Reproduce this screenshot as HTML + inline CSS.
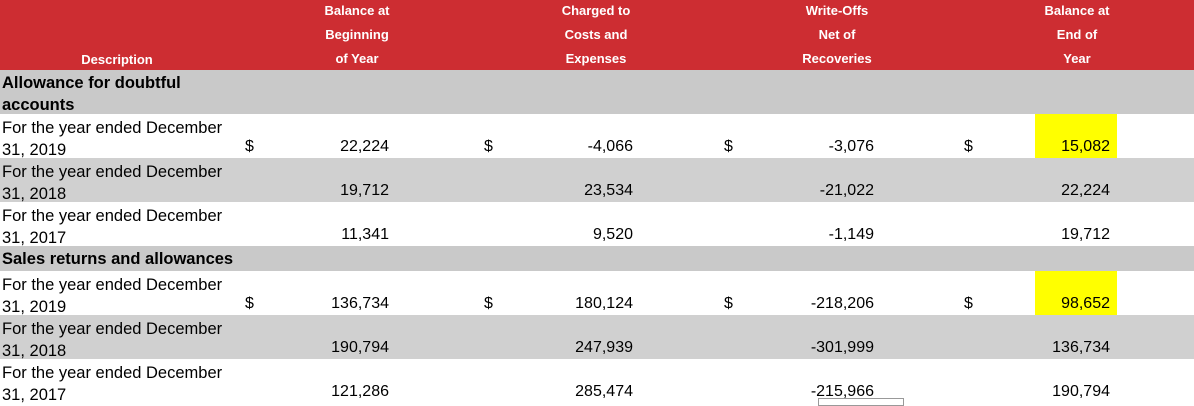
<!DOCTYPE html>
<html><head><meta charset="utf-8"><style>
body{margin:0;width:1194px;height:401px;overflow:hidden;background:#fff;font-family:"Liberation Sans",Arial,sans-serif;position:relative}
div{position:absolute}
.h{color:#fff;font-weight:bold;font-size:13px;text-align:center;width:200px}
.band{left:0;width:1194px}
.d{left:2px;font-size:16.5px;line-height:22px;color:#000;white-space:nowrap}
.b{font-weight:bold}
.n{font-size:16px;text-align:right;width:150px}
.s{font-size:16px}
</style></head><body>
<div class="band" style="top:0;height:70px;background:#cd2d32"></div>
<div class="h" style="left:17px;top:52px">Description</div>
<div class="h" style="left:257px;top:-1px;line-height:24px">Balance at<br>Beginning<br>of Year</div>
<div class="h" style="left:496px;top:-1px;line-height:24px">Charged to<br>Costs and<br>Expenses</div>
<div class="h" style="left:737px;top:-1px;line-height:24px">Write-Offs<br>Net of<br>Recoveries</div>
<div class="h" style="left:977px;top:-1px;line-height:24px">Balance at<br>End of<br>Year</div>

<div class="band" style="top:70px;height:44px;background:#c9c9c9"></div>
<div class="band" style="top:158px;height:44px;background:#d0d0d0"></div>
<div class="band" style="top:246px;height:25px;background:#c9c9c9"></div>
<div class="band" style="top:315px;height:44px;background:#d0d0d0"></div>
<div style="left:1035px;top:114px;width:82px;height:44px;background:#ffff00"></div>
<div style="left:1035px;top:271px;width:82px;height:44px;background:#ffff00"></div>

<div class="d b" style="top:72px">Allowance for doubtful<br>accounts</div>
<div class="d b" style="top:248px">Sales returns and allowances</div>

<div style="left:818px;top:398px;width:84px;height:6px;border:1px solid #999"></div>
<script>
const labels=["2019","2018","2017","2019","2018","2017"];
const begin=["22,224","19,712","11,341","136,734","190,794","121,286"];
const charged=["-4,066","23,534","9,520","180,124","247,939","285,474"];
const writeoffs=["-3,076","-21,022","-1,149","-218,206","-301,999","-215,966"];
const ending=["15,082","22,224","19,712","98,652","136,734","190,794"];
const tops=[114,158,202,271,315,359];
const root=document.body;
function add(cls,txt,style,name){const e=document.createElement('div');e.className=cls;e.innerHTML=txt;e.style.cssText=style;


root.appendChild(e);}
labels.forEach((y,i)=>{const t=tops[i];
add('d','For the year ended December<br>31, '+y,'top:'+(t+3)+'px','row-label-'+i);
const ny=t+24;
[[begin,389],[charged,633],[writeoffs,874],[ending,1110]].forEach((c,j)=>{
add('n',c[0][i],'left:'+(c[1]-150)+'px;top:'+ny+'px','value-'+i+'-'+j);});
if(i===0||i===3){[245,484,724,964].forEach((x,j)=>add('s','$','left:'+x+'px;top:'+ny+'px','dollar-'+i+'-'+j));}
});
</script>
</body></html>
